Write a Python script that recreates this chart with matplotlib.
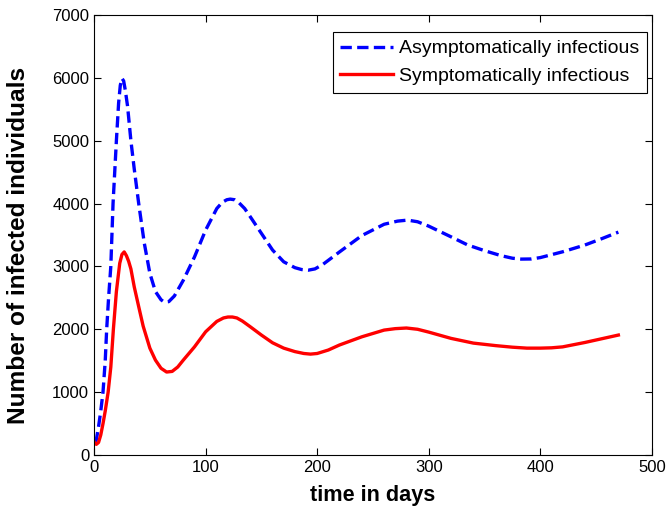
import matplotlib
matplotlib.use("Agg")
import matplotlib.pyplot as plt

plt.rcParams['font.family'] = ['Liberation Sans', 'DejaVu Sans']

# asymptomatically infectious (blue dashed)
t_a = [0, 2, 4, 6, 8, 10, 11.3, 13, 15, 17, 20, 22, 23.5, 25, 26.5, 28, 30, 33, 36, 40, 45, 50, 55,
       60, 63, 67, 72, 80, 90, 100, 110, 115, 119, 122, 126, 130, 135, 140, 150, 160, 170, 180,
       186, 192, 198, 205, 220, 240, 260, 272, 281, 290, 300, 320, 335, 350, 365, 375, 383, 392,
       400, 420, 440, 455, 470]
asym = [200, 240, 450, 700, 1000, 1500, 2000, 2500, 3000, 4000, 5000, 5600, 5880, 5990, 5950, 5800,
        5550, 5000, 4550, 4000, 3370, 2890, 2600, 2470, 2430, 2440, 2530, 2780, 3150, 3577, 3920,
        4020, 4060, 4070, 4060, 4010, 3920, 3790, 3525, 3260, 3073, 2980, 2950, 2940, 2960, 3030,
        3230, 3490, 3670, 3720, 3736, 3710, 3640, 3470, 3340, 3250, 3170, 3130, 3116, 3118, 3140,
        3232, 3340, 3440, 3545]

# symptomatically infectious (red solid)
t_s = [0, 2, 4, 6, 8, 10, 12.6, 15, 17.3, 20, 23, 25, 27, 29, 31, 33, 36, 40, 44, 50, 55, 60, 65,
       70, 75, 80, 90, 100, 110, 116, 120, 124, 128, 133, 140, 150, 160, 170, 180, 188, 194, 200,
       210, 220, 240, 260, 270, 280, 290, 300, 320, 340, 360, 375, 388, 400, 410, 420, 440, 470]
sym = [210, 170, 200, 320, 500, 700, 1000, 1400, 2000, 2600, 3050, 3190, 3230, 3170, 3080, 2960,
       2675, 2360, 2050, 1700, 1510, 1380, 1320, 1330, 1400, 1510, 1720, 1960, 2125, 2180, 2195,
       2195, 2180, 2130, 2040, 1908, 1785, 1700, 1645, 1615, 1605, 1615, 1670, 1750, 1880, 1987,
       2010, 2020, 2000, 1955, 1855, 1780, 1740, 1715, 1700, 1700, 1705, 1720, 1790, 1908]

fig = plt.figure(figsize=(6.72, 5.13), dpi=100)
ax = fig.add_axes([0.140, 0.113, 0.830, 0.858])

ax.plot(t_a, asym, color='blue', linestyle='--', dashes=(3.4, 1.6), linewidth=2.4,
        label='Asymptomatically infectious')
ax.plot(t_s, sym, color='red', linewidth=2.4, label='Symptomatically infectious')

ax.set_xlim(0, 500)
ax.set_ylim(0, 7000)
ax.set_xticks(range(0, 501, 100))
ax.set_yticks(range(0, 7001, 1000))
ax.tick_params(direction='in', top=True, right=True, labelsize=12, length=5)
ax.set_xlabel('time in days', fontsize=15.6, fontweight='bold', labelpad=7)
ax.set_ylabel('Number of infected individuals', fontsize=17.6, fontweight='bold')
ax.yaxis.set_label_coords(-0.115, 0.477)

leg = ax.legend(loc='upper right', bbox_to_anchor=(0.991, 0.961), fontsize=14,
                fancybox=False, framealpha=1, edgecolor='black', handlelength=2.7,
                borderaxespad=0, borderpad=0.4, labelspacing=0.5, handletextpad=0.3)
leg.get_frame().set_linewidth(0.8)

fig.savefig('out.png', dpi=100)
